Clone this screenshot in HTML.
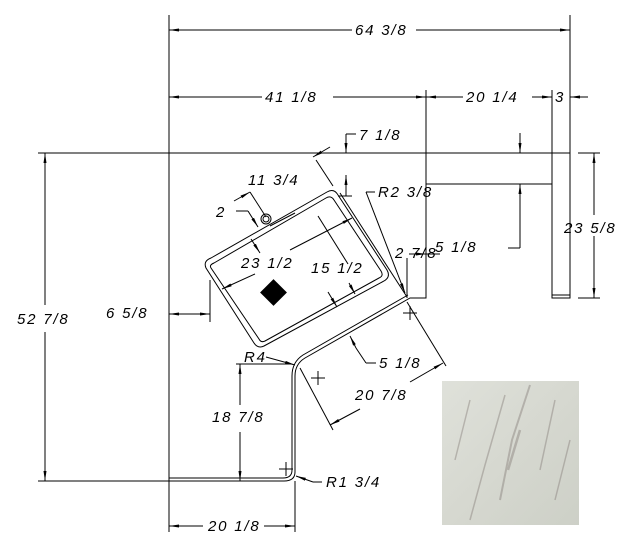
<!DOCTYPE html>
<html><head><meta charset="utf-8"><style>
html,body{margin:0;padding:0;background:#fff;}
svg{display:block;}
text{font-family:"Liberation Sans",sans-serif;font-style:italic;font-size:15px;fill:#000;letter-spacing:1.8px;}
</style></head><body>
<svg width="636" height="557" viewBox="0 0 636 557" xmlns="http://www.w3.org/2000/svg">
<defs>
<marker id="a" viewBox="0 0 10 4" refX="10" refY="2" markerWidth="10" markerHeight="4" orient="auto-start-reverse" markerUnits="userSpaceOnUse"><path d="M0,0.5 L10,2 L0,3.5z" fill="#000"/></marker>
<linearGradient id="m" x1="0" y1="0" x2="1" y2="1">
<stop offset="0" stop-color="#dfe1da"/><stop offset="0.5" stop-color="#d6d8d0"/><stop offset="1" stop-color="#cdd0c7"/></linearGradient>
</defs>
<g stroke="#000" stroke-width="1" fill="none">
<line x1="169" y1="15" x2="169" y2="153"/>
<line x1="570" y1="15" x2="570" y2="153"/>
<line x1="426" y1="90" x2="426" y2="153"/>
<line x1="552" y1="90" x2="552" y2="153"/>
<line x1="169" y1="30" x2="352" y2="30" marker-start="url(#a)"/>
<line x1="416" y1="30" x2="570" y2="30" marker-end="url(#a)"/>
<line x1="169" y1="97" x2="262" y2="97" marker-start="url(#a)"/>
<line x1="333" y1="97" x2="426" y2="97" marker-end="url(#a)"/>
<line x1="426" y1="97" x2="463" y2="97" marker-start="url(#a)"/>
<line x1="532" y1="97" x2="552" y2="97" marker-end="url(#a)"/>
<line x1="570" y1="97" x2="588" y2="97" marker-start="url(#a)"/>
<line x1="38" y1="153" x2="169" y2="153"/>
<line x1="38" y1="481" x2="169" y2="481"/>
<line x1="45" y1="153" x2="45" y2="305" marker-start="url(#a)"/>
<line x1="45" y1="332" x2="45" y2="481" marker-end="url(#a)"/>
<path d="M169,153 H426 V298 H410 L305,358 Q295,364 295,376 V472 Q295,481 284,481 H169 Z"/>
<path d="M169,478 H283 Q292,478 292,470 V376 Q292,362 303,355 L408,295"/>
<line x1="340" y1="193" x2="407" y2="297"/>
<path d="M426,153 H570 V298 H552 V153"/>
<line x1="426" y1="184" x2="552" y2="184"/>
<line x1="552" y1="295" x2="570" y2="295"/>
<line x1="578" y1="153" x2="600" y2="153"/>
<line x1="578" y1="298" x2="600" y2="298"/>
<line x1="594" y1="153" x2="594" y2="215" marker-start="url(#a)"/>
<line x1="594" y1="236" x2="594" y2="298" marker-end="url(#a)"/>
<line x1="520" y1="133" x2="520" y2="153" marker-end="url(#a)"/>
<line x1="520" y1="248" x2="520" y2="184" marker-end="url(#a)"/>
<line x1="508" y1="248" x2="520" y2="248"/>
<path d="M211,258 L327,192 Q334,188 338,195 L387,270 Q391,277 384,281 L264,346 Q258,349 254,343 L206,268 Q203,261 211,258Z"/>
<path d="M214,263 L326,198 Q331,195 334,200 L381,271 Q384,276 379,278 L265,341 Q261,343 259,339 L211,268 Q209,265 214,263Z"/>
<line x1="270" y1="226" x2="295" y2="213"/>
<line x1="222" y1="289" x2="255" y2="274" marker-start="url(#a)"/>
<line x1="290" y1="250" x2="352" y2="218" marker-end="url(#a)"/>
<line x1="318" y1="216" x2="348" y2="264"/>
<line x1="328" y1="292" x2="337" y2="307" marker-end="url(#a)"/>
<line x1="349" y1="283" x2="355" y2="294" marker-end="url(#a)"/>
<line x1="251" y1="239" x2="260" y2="253" marker-end="url(#a)"/>
<line x1="236" y1="211" x2="248" y2="211"/><line x1="248" y1="211" x2="258" y2="227" marker-end="url(#a)"/>
<line x1="234" y1="201" x2="250" y2="192" marker-end="url(#a)"/>
<line x1="250" y1="192" x2="266" y2="217"/>
<line x1="316" y1="160" x2="333" y2="186"/>
<line x1="313" y1="157" x2="330" y2="147" marker-start="url(#a)"/>
<line x1="346" y1="134" x2="346" y2="153" marker-end="url(#a)"/>
<line x1="346" y1="134" x2="356" y2="134"/>
<line x1="346" y1="175" x2="346" y2="196" marker-start="url(#a)"/>
<line x1="338" y1="196" x2="352" y2="196"/>
<line x1="366" y1="192" x2="375" y2="192"/>
<line x1="366" y1="192" x2="405" y2="293" marker-end="url(#a)"/>
<line x1="210" y1="280" x2="210" y2="322"/>
<line x1="169" y1="314" x2="185" y2="314" marker-start="url(#a)"/>
<line x1="185" y1="314" x2="210" y2="314" marker-end="url(#a)"/>
<line x1="409" y1="254" x2="426" y2="254" marker-end="url(#a)"/>
<line x1="426" y1="254" x2="440" y2="254"/>
<line x1="407" y1="258" x2="407" y2="298"/>
<circle cx="266" cy="219" r="5"/><circle cx="266" cy="219" r="3"/>
<line x1="356" y1="348" x2="366" y2="363"/><line x1="366" y1="363" x2="376" y2="363"/>
<line x1="356" y1="348" x2="350" y2="336" marker-end="url(#a)"/>
<line x1="407" y1="302" x2="446" y2="366"/>
<line x1="300" y1="368" x2="333" y2="430"/>
<line x1="330" y1="425" x2="360" y2="409" marker-start="url(#a)"/>
<line x1="410" y1="382" x2="443" y2="363" marker-end="url(#a)"/>
<line x1="266" y1="357" x2="295" y2="365" marker-end="url(#a)"/>
<line x1="236" y1="364" x2="292" y2="364"/>
<line x1="240" y1="364" x2="240" y2="405" marker-start="url(#a)"/>
<line x1="240" y1="432" x2="240" y2="481" marker-end="url(#a)"/>
<line x1="296" y1="476" x2="313" y2="482" marker-start="url(#a)"/>
<line x1="313" y1="482" x2="322" y2="482"/>
<line x1="169" y1="481" x2="169" y2="532"/>
<line x1="295" y1="481" x2="295" y2="532"/>
<line x1="169" y1="526" x2="203" y2="526" marker-start="url(#a)"/>
<line x1="264" y1="526" x2="295" y2="526" marker-end="url(#a)"/>
<path d="M403,313 H417 M410,306 V320 M311,378 H325 M318,371 V385 M279,469 H293 M286,462 V476"/>
</g>
<rect x="264" y="283" width="19" height="19" fill="#000" transform="rotate(45 273.5 292.5)"/>
<rect x="442" y="381" width="137" height="144" fill="url(#m)"/>
<g stroke="#7d7470" fill="none" opacity="0.4">
<path d="M530,385 L512,440 L500,500" stroke-width="2"/><path d="M555,400 L540,470" stroke-width="1.5"/><path d="M470,400 L455,460" stroke-width="1.5"/><path d="M505,395 L485,465 L470,520" stroke-width="1.5"/><path d="M570,440 L555,500" stroke-width="1.5"/><path d="M520,430 L508,470" stroke-width="2.5"/>
</g>
<text x="355" y="35">64 3/8</text>
<text x="265" y="102">41 1/8</text>
<text x="466" y="102">20 1/4</text>
<text x="555" y="102">3</text>
<text x="359" y="140">7 1/8</text>
<text x="248" y="185">11 3/4</text>
<text x="378" y="197">R2 3/8</text>
<text x="216" y="217">2</text>
<text x="241" y="268">23 1/2</text>
<text x="311" y="273">15 1/2</text>
<text x="395" y="258">2 7/8</text>
<text x="435" y="252">5 1/8</text>
<text x="564" y="233">23 5/8</text>
<text x="17" y="324">52 7/8</text>
<text x="106" y="318">6 5/8</text>
<text x="244" y="362" font-size="14">R4</text>
<text x="379" y="368">5 1/8</text>
<text x="355" y="400">20 7/8</text>
<text x="212" y="422">18 7/8</text>
<text x="326" y="487">R1 3/4</text>
<text x="208" y="531">20 1/8</text>
</svg>
</body></html>
